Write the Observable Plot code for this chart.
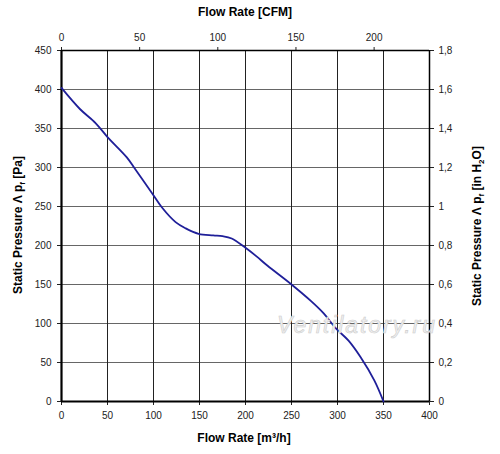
<!DOCTYPE html>
<html><head><meta charset="utf-8">
<script src="https://cdn.jsdelivr.net/npm/d3@7"></script>
<script src="https://cdn.jsdelivr.net/npm/@observablehq/plot@0.6"></script>
<style>body{margin:0;background:#fff;}</style>
</head><body><div id="chart"></div>
<script>
// Fan curve
const flowM3h   = [0, 20, 37, 50, 71, 80, 99, 109, 124, 135, 149, 165, 175, 185, 200, 212, 224, 249, 271, 285, 298, 312, 325, 340, 350];
const pressurePa = [402, 375, 357, 339, 313, 298, 266, 249, 230, 222, 215, 213, 212, 209, 197, 186, 174, 151, 129, 113, 94, 78, 57, 27, 0];

const xTicks = [0, 50, 100, 150, 200, 250, 300, 350, 400];
const yTicks = [0, 50, 100, 150, 200, 250, 300, 350, 400, 450];
const cfmTicks = [0, 50, 100, 150, 200];
const inH2OTicks = [0, 0.2, 0.4, 0.6, 0.8, 1, 1.2, 1.4, 1.6, 1.8];
const M3H_PER_CFM = 1.699;
const PA_PER_INH2O = 250;

const data = flowM3h.map((q, i) => ({q, p: pressurePa[i]}));

const chart = Plot.plot({
  width: 500, height: 454,
  marginLeft: 61, marginRight: 71, marginTop: 50, marginBottom: 53,
  style: {fontFamily: "'Liberation Sans', Arial, sans-serif", fontSize: "10px", color: "#222", background: "#fff"},
  x: {domain: [0, 400]},
  y: {domain: [0, 450]},
  marks: [
    Plot.gridY(yTicks, {stroke: "#666", strokeOpacity: 1}),
    Plot.gridX(xTicks, {stroke: "#222", strokeOpacity: 1}),
    Plot.axisX(xTicks, {anchor: "bottom", tickSize: 4, tickPadding: 6, label: null}),
    Plot.axisX(cfmTicks.map(c => c * M3H_PER_CFM), {anchor: "top", tickSize: 4, tickPadding: 6, label: null,
      tickFormat: d => Math.round(d / M3H_PER_CFM)}),
    Plot.axisY(yTicks, {anchor: "left", tickSize: 4, tickPadding: 6, label: null}),
    Plot.axisY(inH2OTicks.map(v => v * PA_PER_INH2O), {anchor: "right", tickSize: 4, tickPadding: 5, label: null,
      tickFormat: d => String(+(d / PA_PER_INH2O).toFixed(1)).replace(".", ",")}),
    Plot.ruleX([400], {stroke: "#000", strokeWidth: 1.5}),
    Plot.ruleY([450], {stroke: "#000", strokeWidth: 1.5}),
    Plot.ruleX([0], {stroke: "#000", strokeWidth: 2.2}),
    Plot.ruleY([0], {stroke: "#000", strokeWidth: 2.2}),
    Plot.line(data, {x: "q", y: "p", stroke: "#1f1f99", strokeWidth: 1.8, curve: "catmull-rom"})
  ]
});

document.getElementById("chart").append(chart);

const svg = d3.select(chart);
// watermark
svg.append("text")
  .attr("x", 277).attr("y", 333)
  .attr("text-anchor", "start")
  .attr("textLength", 158)
  .attr("font-family", "'Liberation Sans', Arial, sans-serif")
  .attr("font-style", "italic")
  .attr("font-size", 23)
  .attr("fill", "#f0f0f0")
  .attr("stroke", "#cdcdcd")
  .attr("stroke-width", 0.6)
  .text("Ventilatory.ru");

const bold = sel => sel.attr("font-family", "'Liberation Sans', Arial, sans-serif")
  .attr("font-weight", "bold").attr("font-size", 12).attr("fill", "#000").attr("text-anchor", "middle");

svg.append("text").call(bold).attr("x", 245).attr("y", 16).text("Flow Rate [CFM]");
svg.append("text").call(bold).attr("x", 244).attr("y", 442).text("Flow Rate [m³/h]");

function pressureLabel(x, y, unitParts) {
  const t = svg.append("text").call(bold)
    .attr("transform", `translate(${x},${y}) rotate(-90)`);
  t.append("tspan").text("Static Pressure Λ p");
  t.append("tspan").attr("dy", 3).attr("font-size", 8).text("f");
  t.append("tspan").attr("dy", -3).text(unitParts[0]);
  if (unitParts.length > 1) {
    t.append("tspan").attr("dy", 3).attr("font-size", 8).text(unitParts[1]);
    t.append("tspan").attr("dy", -3).text(unitParts[2]);
  }
}
pressureLabel(22, 225, [" [Pa]"]);
pressureLabel(481, 226, [" [in H", "2", "O]"]);
</script>
</body></html>
